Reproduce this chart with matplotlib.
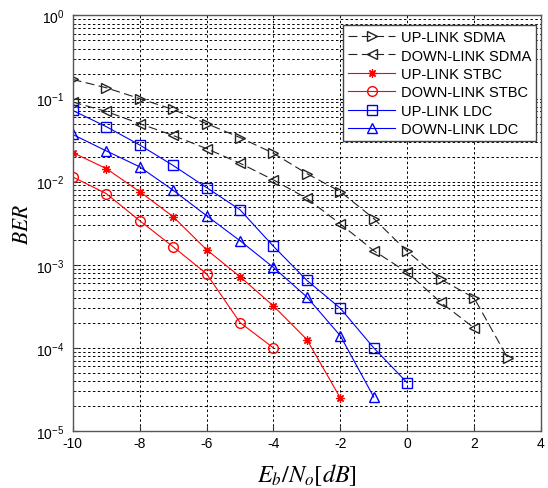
import numpy as np
import matplotlib
matplotlib.use("Agg")
import matplotlib.pyplot as plt
from matplotlib.ticker import FuncFormatter, LogLocator, NullFormatter

plt.rcParams['font.family'] = ['Liberation Sans', 'DejaVu Sans']
plt.rcParams['mathtext.fontset'] = 'stix'
plt.rcParams['axes.unicode_minus'] = False

# Eb/No [dB] and BER for each scheme
snr_up_sdma = [-10, -9, -8, -7, -6, -5, -4, -3, -2, -1, 0, 1, 2, 3]
ber_up_sdma = [0.17, 0.135, 0.10, 0.074, 0.050, 0.034, 0.022, 0.0125, 0.0076,
               0.0036, 0.00145, 0.00067, 0.0004, 7.6e-5]

snr_down_sdma = [-10, -9, -8, -7, -6, -5, -4, -3, -2, -1, 0, 1, 2]
ber_down_sdma = [0.091, 0.070, 0.050, 0.036, 0.025, 0.0167, 0.0105, 0.0063,
                 0.0031, 0.00148, 0.00081, 0.000354, 0.000174]

snr_up_stbc = [-10, -9, -8, -7, -6, -5, -4, -3, -2]
ber_up_stbc = [0.0224, 0.0144, 0.0076, 0.0038, 0.00152, 0.00072, 0.00032,
               0.000126, 2.5e-5]

snr_down_stbc = [-10, -9, -8, -7, -6, -5, -4]
ber_down_stbc = [0.0114, 0.0072, 0.0034, 0.00165, 0.00078, 0.000202, 0.0001]

snr_up_ldc = [-10, -9, -8, -7, -6, -5, -4, -3, -2, -1, 0]
ber_up_ldc = [0.072, 0.046, 0.0277, 0.0157, 0.0085, 0.0046, 0.00167, 0.00065,
              0.0003, 0.0001, 3.8e-5]

snr_down_ldc = [-10, -9, -8, -7, -6, -5, -4, -3, -2, -1]
ber_down_ldc = [0.037, 0.0235, 0.0151, 0.0079, 0.0039, 0.00195, 0.00093,
                0.00041, 0.00014, 2.56e-5]

fig = plt.figure(figsize=(5.48, 4.89), dpi=100)
ax = fig.add_axes([0.1327, 0.1166, 0.8545, 0.8497])

ms = 7
lw = 0.8
blk = '#222222'
ax.semilogy(snr_up_sdma, ber_up_sdma, '--', color=blk, marker='>', mfc='none',
            mec=blk, ms=ms, lw=lw, dashes=(8, 4), label='UP-LINK SDMA')
ax.semilogy(snr_down_sdma, ber_down_sdma, '--', color=blk, marker='<', mfc='none',
            mec=blk, ms=ms, lw=lw, dashes=(8, 4), label='DOWN-LINK SDMA')
ax.semilogy(snr_up_stbc, ber_up_stbc, '-', color='red', marker=(8, 2, 0), ms=ms - 1,
            mew=0.9, lw=lw, label='UP-LINK STBC')
ax.semilogy(snr_down_stbc, ber_down_stbc, '-', color='red', marker='o', mfc='none',
            ms=ms, lw=lw, label='DOWN-LINK STBC')
ax.semilogy(snr_up_ldc, ber_up_ldc, '-', color='blue', marker='s', mfc='none',
            ms=ms, lw=lw, label='UP-LINK LDC')
ax.semilogy(snr_down_ldc, ber_down_ldc, '-', color='blue', marker='^', mfc='none',
            ms=ms, lw=lw, label='DOWN-LINK LDC')

ax.set_xlim(-10, 4)
ax.set_ylim(1e-5, 1)
ax.set_xticks([-10, -8, -6, -4, -2, 0, 2, 4])
ax.yaxis.set_major_locator(LogLocator(base=10, numticks=10))
ax.yaxis.set_minor_locator(LogLocator(base=10, subs=np.arange(2, 10), numticks=20))
ax.yaxis.set_minor_formatter(NullFormatter())
ax.yaxis.set_major_formatter(FuncFormatter(
    lambda v, p: r'$\mathregular{10^{%d}}$' % round(np.log10(v))))

ax.grid(True, which='major', color='black', linestyle=(0, (2.5, 2.5)), lw=0.7)
ax.grid(True, which='minor', axis='y', color='black', linestyle=(0, (2.5, 2.5)), lw=0.7)

ax.tick_params(which='both', direction='in', labelsize=10, colors='#333333',
               labelcolor='black')
ax.tick_params(axis='y', pad=6)
ax.tick_params(which='minor', length=2)
for s in ax.spines.values():
    s.set_color('#555555')
    s.set_linewidth(1.0)

ax.set_xlabel(r'$E_b/N_o[dB]$', fontsize=17.5, labelpad=8)
ax.set_ylabel(r'$BER$', fontsize=15.5, labelpad=2)

leg = ax.legend(loc='upper right', bbox_to_anchor=(0.99, 0.977), borderaxespad=0,
                fontsize=10.5, fancybox=False, framealpha=1, edgecolor='#444444',
                handlelength=3.2, labelspacing=0.3, borderpad=0.35, handletextpad=0.4)
leg.get_frame().set_linewidth(1.0)

fig.savefig('out.png', dpi=100)
